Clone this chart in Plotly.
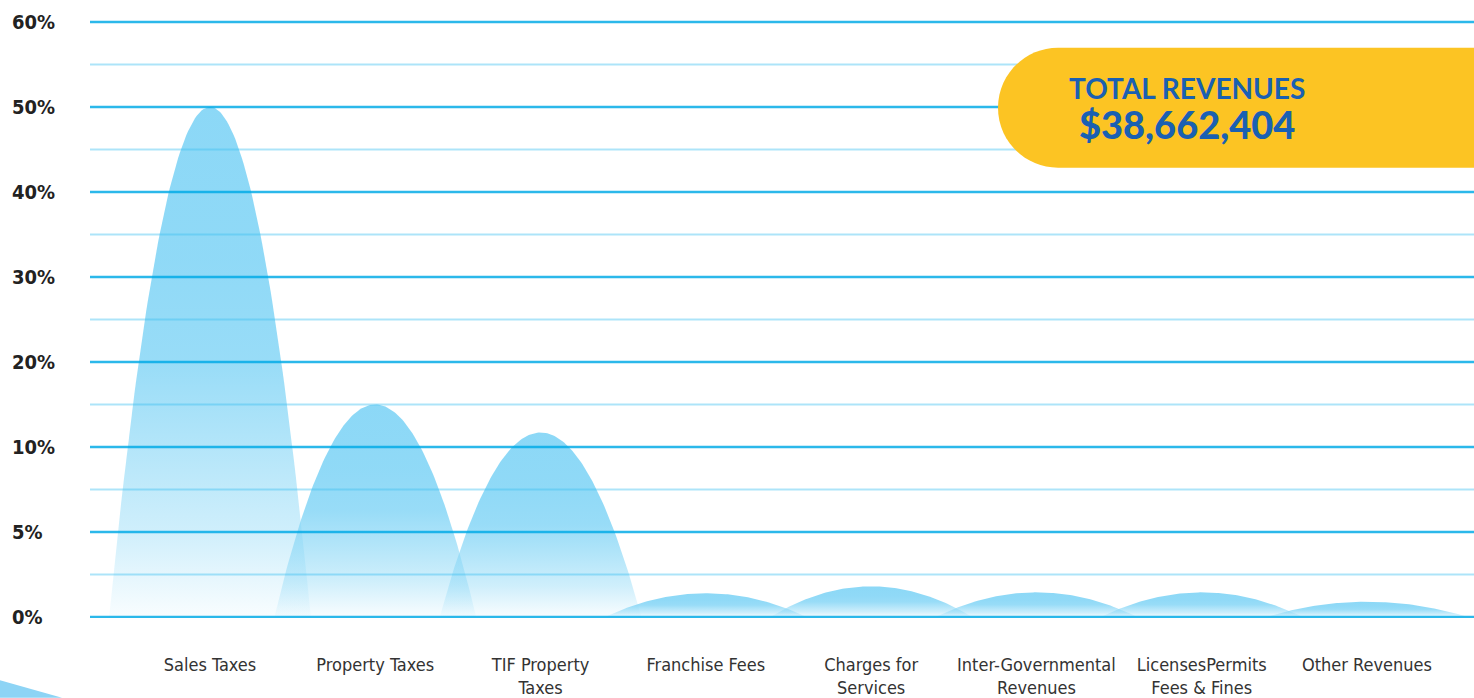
import numpy as np
import plotly.graph_objects as go

# ---- data (levels read on the chart's gridline scale: one unit per labelled line) ----
categories = ["Sales Taxes", "Property Taxes", "TIF Property<br>Taxes", "Franchise Fees",
              "Charges for<br>Services", "Inter-Governmental<br>Revenues",
              "LicensesPermits<br>Fees & Fines", "Other Revenues"]
levels = [6.0, 2.50, 2.17, 0.28, 0.36, 0.29, 0.29, 0.18]
y_tick_labels = ["0%", "5%", "10%", "20%", "30%", "40%", "50%", "60%"]
total_title = "TOTAL REVENUES"
total_value = "$38,662,404"

# ---- styles ----
W, H = 1474, 698
ML, MR, MT, MB = 90, 0, 20, 78
plot_w = W - ML - MR
plot_h = H - MT - MB
px_per_cat = 165.29
px_per_unit = 597 / 7
x_range = [-(210 - ML) / px_per_cat, 7 + (W - 1367) / px_per_cat]
y_range = [-(MT + plot_h - 619) / px_per_unit, 7 + (22 - MT) / px_per_unit]
shape_width = 1.22

major_col = "rgba(0,170,230,0.83)"
minor_col = "rgba(60,190,240,0.42)"
base = "134,214,246"
grad = [[0.0, f"rgba({base},0.05)"], [0.17, f"rgba({base},0.40)"],
        [0.33, f"rgba({base},0.62)"], [0.5, f"rgba({base},0.85)"],
        [0.7, f"rgba({base},0.92)"], [1.0, f"rgba({base},0.95)"]]
cond_font = "DejaVu Sans Condensed, Liberation Sans Narrow, Roboto"

fig = go.Figure()
u = np.linspace(-1, 1, 121)
for i, (cat, v) in enumerate(zip(categories, levels)):
    xs = i + u * shape_width / 2
    ys = v * (1 - u ** 2)
    fig.add_trace(go.Scatter(
        x=xs, y=ys, mode="lines", fill="toself",
        line=dict(width=0, color="rgba(0,0,0,0)"),
        fillgradient=dict(type="vertical", colorscale=grad),
        hoverinfo="skip", showlegend=False, name=cat.replace("<br>", " ")))

shapes = []
# grid lines (drawn above the translucent mountains)
for k in range(len(y_tick_labels)):
    shapes.append(dict(type="line", xref="paper", x0=0, x1=1, yref="y", y0=k, y1=k,
                       line=dict(color=major_col, width=2.5), layer="above"))
    if k < len(y_tick_labels) - 1:
        shapes.append(dict(type="line", xref="paper", x0=0, x1=1, yref="y",
                           y0=k + 0.5, y1=k + 0.5,
                           line=dict(color=minor_col, width=2), layer="above"))
# yellow badge
shapes.append(dict(type="path", xref="paper", yref="paper",
                   xsizemode="pixel", ysizemode="pixel",
                   xanchor=(1058 - ML) / plot_w, yanchor=(MT + plot_h - 108) / plot_h,
                   path="M0,60 L520,60 L520,-60 L0,-60 C-33.1,-60 -60,-33.1 -60,0 "
                        "C-60,33.1 -33.1,60 0,60 Z",
                   fillcolor="#fcc423", line=dict(width=0), layer="above"))


def pp(px, py):
    return (px - ML) / plot_w, (MT + plot_h - py) / plot_h


# bottom-left decoration
a, b, c = pp(-2, 682), pp(62, 700), pp(-2, 700)
shapes.append(dict(type="path", xref="paper", yref="paper",
                   path=f"M{a[0]},{a[1]} L{b[0]},{b[1]} L{c[0]},{c[1]} Z",
                   fillcolor="#8dd4f5", line=dict(width=0), layer="above"))

annotations = []
for k, lab in enumerate(y_tick_labels):
    annotations.append(dict(text=lab, xref="paper", x=0, xanchor="left", xshift=-80,
                            yref="y", y=k, yanchor="middle", showarrow=False,
                            font=dict(family=cond_font, size=20, color="#222222",
                                      weight="bold")))
bx, by = pp(1187, 109)
badge_text = (f"<span style='font-size:28px;font-weight:700'>{total_title}</span><br>"
              f"<span style='font-size:38px;font-weight:900'>{total_value}</span>")
annotations.append(dict(text=badge_text, xref="paper", yref="paper", x=bx, y=by,
                        xanchor="center", yanchor="middle", align="center",
                        showarrow=False,
                        font=dict(family="Lato, Open Sans", size=31, color="#1a60b2",
                                  weight=900)))

fig.update_layout(
    width=W, height=H, margin=dict(l=ML, r=MR, t=MT, b=MB),
    paper_bgcolor="white", plot_bgcolor="white",
    shapes=shapes, annotations=annotations, showlegend=False,
    xaxis=dict(range=x_range, tickmode="array", tickvals=list(range(len(categories))),
               ticktext=categories, showgrid=False, zeroline=False, showline=False,
               ticks="outside", ticklen=30, tickcolor="rgba(0,0,0,0)",
               tickfont=dict(family=cond_font, size=18, color="#333333"), fixedrange=True),
    yaxis=dict(range=y_range, showgrid=False, zeroline=False, showline=False,
               showticklabels=False, ticks="", fixedrange=True),
)

fig.write_html("out.html", config={"displayModeBar": False},
               post_script="document.body.style.margin='0';document.body.style.overflow='hidden';")
